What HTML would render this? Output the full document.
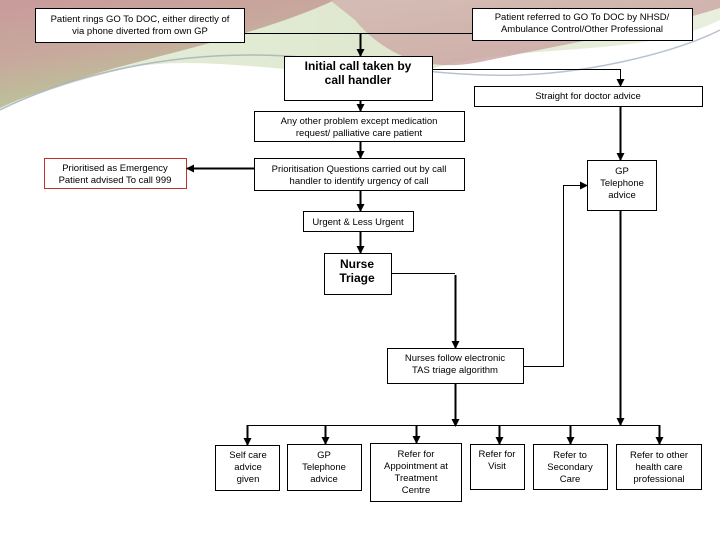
<!DOCTYPE html>
<html><head><meta charset="utf-8"><style>
html,body{margin:0;padding:0;background:#fff}
svg{display:block}
text{font-family:"Liberation Sans",sans-serif;font-size:9.5px;fill:#000}
</style></head><body>
<svg width="720" height="540" viewBox="0 0 720 540" xmlns="http://www.w3.org/2000/svg">
<defs>
<linearGradient id="g1" x1="0" y1="0" x2="0.5" y2="1">
<stop offset="0" stop-color="#c99a9c"/><stop offset="0.45" stop-color="#c8a89c"/><stop offset="1" stop-color="#b5cf98"/>
</linearGradient>
<linearGradient id="g2" x1="0" y1="0" x2="1" y2="0">
<stop offset="0" stop-color="#e6eedc"/><stop offset="0.5" stop-color="#dfe8cf"/><stop offset="1" stop-color="#e9efdf"/>
</linearGradient>
<linearGradient id="g3" x1="0" y1="0" x2="1" y2="1">
<stop offset="0" stop-color="#d2b2ae"/><stop offset="1" stop-color="#c49a98"/>
</linearGradient>
<marker id="a" markerWidth="8" markerHeight="8" refX="7" refY="4" orient="auto" markerUnits="userSpaceOnUse"><path d="M0,0 L8,4 L0,8 z" fill="#000"/></marker>
</defs>
<path d="M0,0 H720 V20 C640,60 520,40 420,72 C300,80 200,50 120,70 C60,85 20,100 0,110 Z" fill="url(#g2)"/>
<path d="M0,0 H335 C270,30 190,48 115,68 C60,84 20,98 0,108 Z" fill="url(#g1)"/>
<path d="M330,0 H720 V8 C650,30 560,45 480,62 C420,74 380,50 355,20 Z" fill="url(#g3)" opacity="0.8"/>
<path d="M0,110 C60,80 150,55 250,55 C350,55 420,78 520,75 C600,72 680,50 720,30" fill="none" stroke="#8a9bb0" stroke-width="1.5" opacity="0.6"/>
<g fill="#fff" stroke="#000" stroke-width="1">
<rect x="35.5" y="8.5" width="209" height="34"/>
<rect x="472.5" y="8.5" width="220" height="32"/>
<rect x="284.5" y="56.5" width="148" height="44"/>
<rect x="474.5" y="86.5" width="228" height="20"/>
<rect x="254.5" y="111.5" width="210" height="30"/>
<rect x="254.5" y="158.5" width="210" height="32"/>
<rect x="44.5" y="158.5" width="142" height="30" stroke="#c03030"/>
<rect x="587.5" y="160.5" width="69" height="50"/>
<rect x="303.5" y="211.5" width="110" height="20"/>
<rect x="324.5" y="253.5" width="67" height="41"/>
<rect x="387.5" y="348.5" width="136" height="35"/>
<rect x="215.5" y="445.5" width="64" height="45"/>
<rect x="287.5" y="444.5" width="74" height="46"/>
<rect x="370.5" y="443.5" width="91" height="58"/>
<rect x="470.5" y="444.5" width="54" height="45"/>
<rect x="533.5" y="444.5" width="74" height="45"/>
<rect x="616.5" y="444.5" width="85" height="45"/>
</g>
<g stroke="#000" fill="none">
<path d="M244,33.5 H472" stroke-width="1"/>
<path d="M360.5,33 V56" stroke-width="2" marker-end="url(#a)"/>
<path d="M432,69.5 H620.5 V86" stroke-width="1" marker-end="url(#a)"/>
<path d="M360.5,100 V111" stroke-width="2" marker-end="url(#a)"/>
<path d="M360.5,141 V158" stroke-width="2" marker-end="url(#a)"/>
<path d="M254,168.5 H187" stroke-width="2" marker-end="url(#a)"/>
<path d="M620.5,106 V160" stroke-width="2" marker-end="url(#a)"/>
<path d="M360.5,190 V211" stroke-width="2" marker-end="url(#a)"/>
<path d="M360.5,231 V253" stroke-width="2" marker-end="url(#a)"/>
<path d="M391,273.5 H455" stroke-width="1"/>
<path d="M455.5,275 V348" stroke-width="2" marker-end="url(#a)"/>
<path d="M523,366.5 H563.5 V185.5 H587" stroke-width="1" marker-end="url(#a)"/>
<path d="M620.5,210 V425" stroke-width="2" marker-end="url(#a)"/>
<path d="M455.5,383 V426" stroke-width="2" marker-end="url(#a)"/>
<path d="M247,425.5 H659.5" stroke-width="1"/>
<path d="M247.5,425 V445" stroke-width="2" marker-end="url(#a)"/>
<path d="M325.5,425 V444" stroke-width="2" marker-end="url(#a)"/>
<path d="M416.5,425 V443" stroke-width="2" marker-end="url(#a)"/>
<path d="M499.5,425 V444" stroke-width="2" marker-end="url(#a)"/>
<path d="M570.5,425 V444" stroke-width="2" marker-end="url(#a)"/>
<path d="M659.5,425 V444" stroke-width="2" marker-end="url(#a)"/>
</g>
<g text-anchor="middle">
<text x="140" y="22">Patient rings GO To DOC, either directly of</text>
<text x="140" y="34">via phone diverted from own GP</text>
<text x="582" y="20">Patient referred to GO To DOC by NHSD/</text>
<text x="582" y="32">Ambulance Control/Other Professional</text>
<text x="358" y="70" style="font-size:12px;font-weight:bold">Initial call taken by</text>
<text x="358" y="84" style="font-size:12px;font-weight:bold">call handler</text>
<text x="588" y="99">Straight for doctor advice</text>
<text x="359" y="124">Any other problem except medication</text>
<text x="359" y="136">request/ palliative care patient</text>
<text x="359" y="172">Prioritisation Questions carried out by call</text>
<text x="359" y="184">handler to identify urgency of call</text>
<text x="115" y="171">Prioritised as Emergency</text>
<text x="115" y="183">Patient advised To call 999</text>
<text x="622" y="174">GP</text>
<text x="622" y="186">Telephone</text>
<text x="622" y="198">advice</text>
<text x="358" y="225">Urgent &amp; Less Urgent</text>
<text x="357" y="268" style="font-size:12px;font-weight:bold">Nurse</text>
<text x="357" y="282" style="font-size:12px;font-weight:bold">Triage</text>
<text x="455" y="361">Nurses follow electronic</text>
<text x="455" y="373">TAS triage algorithm</text>
<text x="248" y="458">Self care</text>
<text x="248" y="470">advice</text>
<text x="248" y="482">given</text>
<text x="324" y="458">GP</text>
<text x="324" y="470">Telephone</text>
<text x="324" y="482">advice</text>
<text x="416" y="457">Refer for</text>
<text x="416" y="469">Appointment at</text>
<text x="416" y="481">Treatment</text>
<text x="416" y="493">Centre</text>
<text x="497" y="457">Refer for</text>
<text x="497" y="469">Visit</text>
<text x="570" y="458">Refer to</text>
<text x="570" y="470">Secondary</text>
<text x="570" y="482">Care</text>
<text x="659" y="458">Refer to other</text>
<text x="659" y="470">health care</text>
<text x="659" y="482">professional</text>
</g>
</svg>
</body></html>
